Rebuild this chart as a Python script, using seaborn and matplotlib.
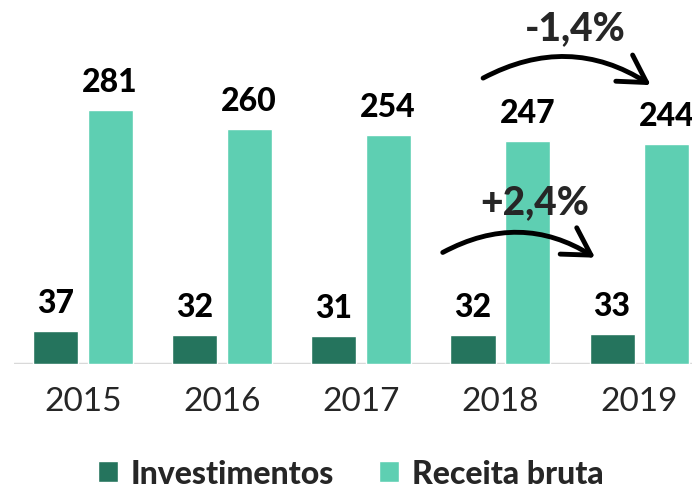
import pandas as pd
import matplotlib.pyplot as plt
import seaborn as sns
from matplotlib.patches import FancyArrowPatch

# Dados
anos = ["2015", "2016", "2017", "2018", "2019"]
investimentos = [37, 32, 31, 32, 33]
receita_bruta = [281, 260, 254, 247, 244]
series = ["Investimentos", "Receita bruta"]
cores = ["#25745D", "#5ECFB2"]

df = pd.DataFrame({
    "Ano": anos * 2,
    "Valor": investimentos + receita_bruta,
    "Série": [series[0]] * len(anos) + [series[1]] * len(anos),
})

sns.set_style("white")
plt.rcParams["font.family"] = ["Lato", "DejaVu Sans"]

fig = plt.figure(figsize=(6.92, 4.89), dpi=100)
ax = fig.add_axes([14 / 692, 124 / 489, 1 - 14 / 692, 365 / 489])

sns.barplot(data=df, x="Ano", y="Valor", hue="Série", palette=cores,
            width=0.78, gap=0.17, saturation=1, ax=ax)

for cont in ax.containers:
    ax.bar_label(cont, padding=10, fontsize=23, fontweight="black", color="black")

ax.set_xlim(-0.496, 4.38)
ax.set_ylim(0, 404)
ax.set_xlabel("")
ax.set_ylabel("")
ax.set_yticks([])
ax.tick_params(axis="x", length=0, pad=16, labelsize=24)
for s in ax.spines.values():
    s.set_visible(False)
ax.axhline(0, color="#d9d9d9", lw=2.5, zorder=0)

# setas de variação
seta_cima = FancyArrowPatch((2.86, 315), (4.10, 307), connectionstyle="arc3,rad=-0.3",
                            arrowstyle="->,head_length=12,head_width=7",
                            lw=3.5, color="black", mutation_scale=1.6,
                            capstyle="round", joinstyle="round")
ax.add_patch(seta_cima)
ax.text(3.54, 372, "-1,4%", ha="center", va="center", fontsize=28, fontweight="black")

seta_baixo = FancyArrowPatch((2.57, 122), (3.70, 116), connectionstyle="arc3,rad=-0.3",
                             arrowstyle="->,head_length=12,head_width=7",
                             lw=3.5, color="black", mutation_scale=1.6,
                             capstyle="round", joinstyle="round")
ax.add_patch(seta_baixo)
ax.text(3.25, 180, "+2,4%", ha="center", va="center", fontsize=28, fontweight="black")

handles, labels = ax.get_legend_handles_labels()
ax.legend_.remove()
fig.legend(handles, labels, loc="center", bbox_to_anchor=(0.507, 0.03), ncol=2,
           frameon=False, handlelength=0.62, handleheight=0.62, handletextpad=0.4,
           columnspacing=1.4, prop={"size": 23, "weight": "black"})

fig.savefig("out.png", dpi=100)
